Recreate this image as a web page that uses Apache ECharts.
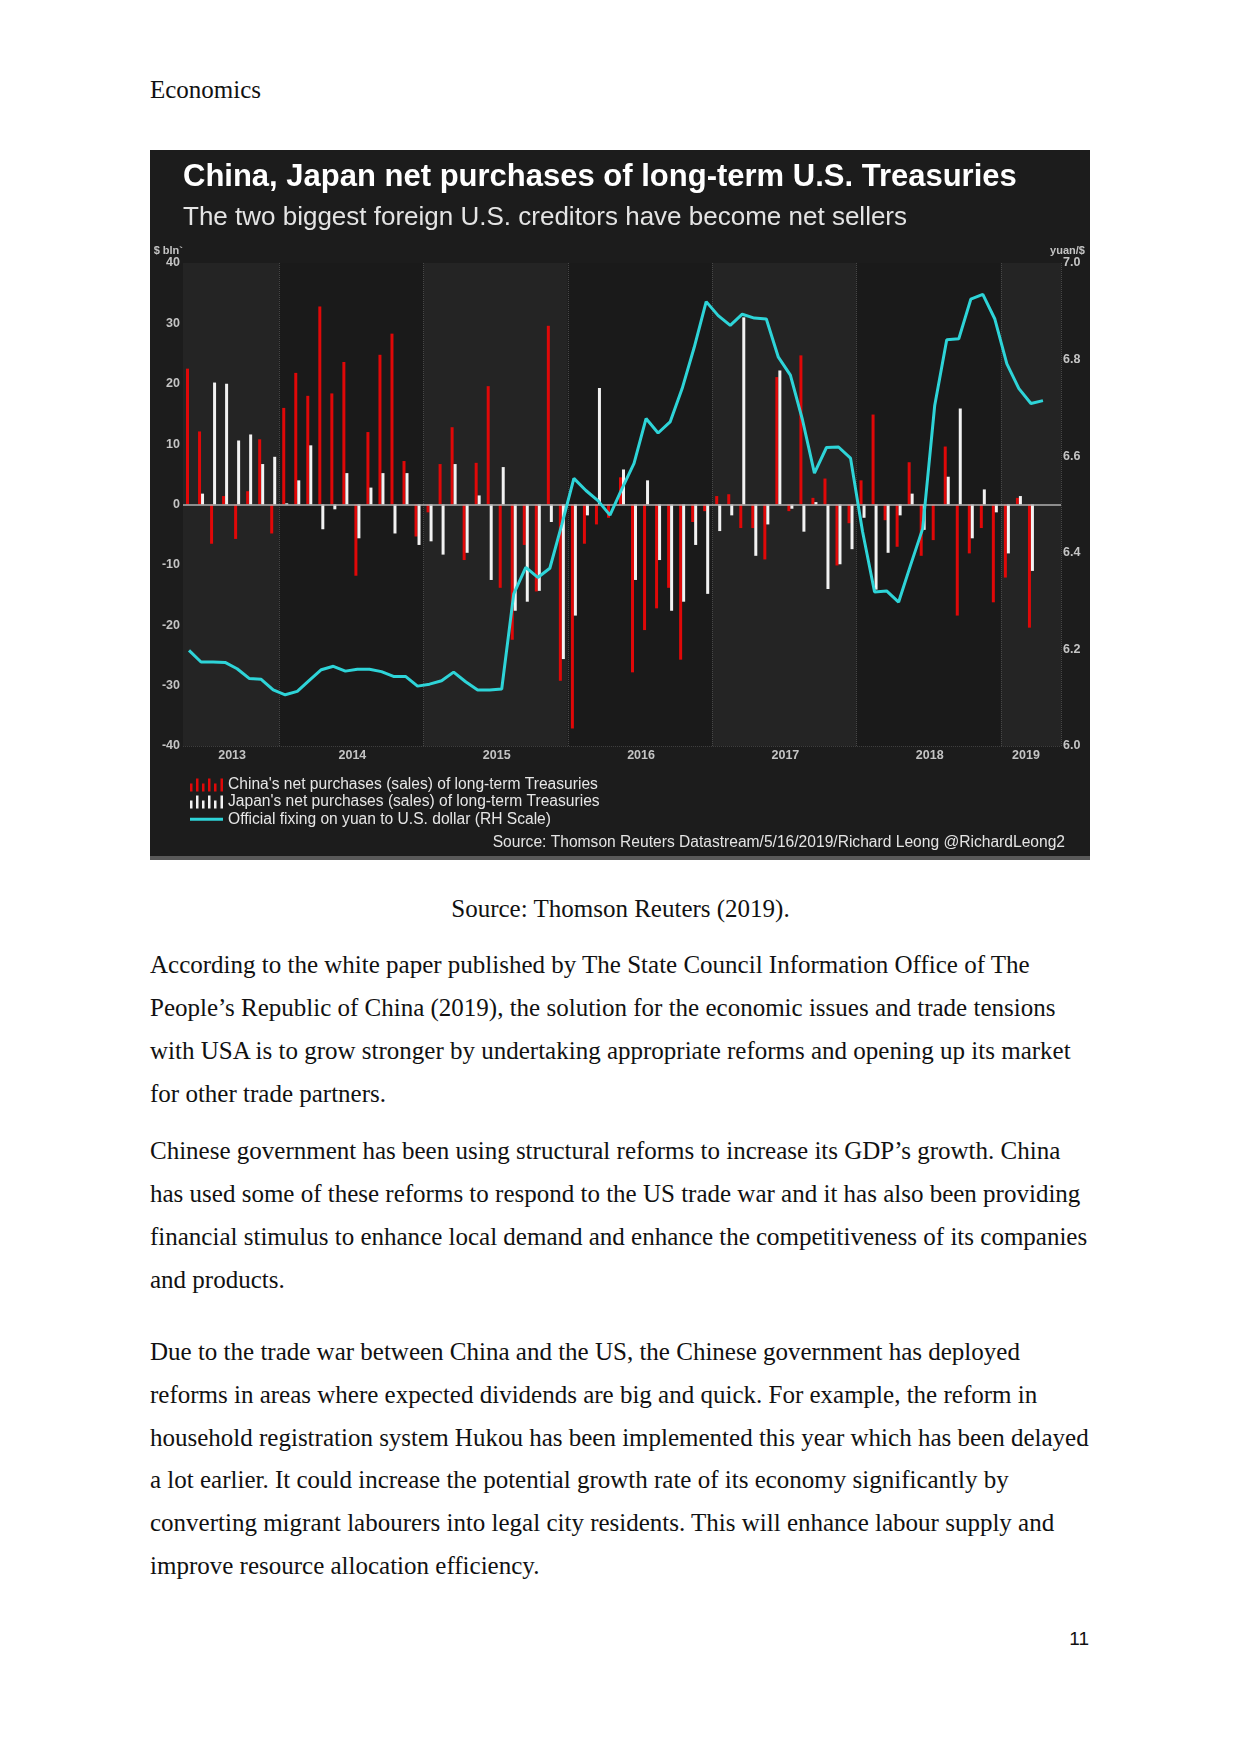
<!DOCTYPE html>
<html>
<head>
<meta charset="utf-8">
<script src="https://cdn.jsdelivr.net/npm/echarts@6/dist/echarts.min.js"></script>
<style>
body { margin: 0; background: #fff; }
#page { position: relative; width: 1241px; height: 1754px; background: #fff; font-family: 'Liberation Serif', 'Times New Roman', serif; color: #111; }
.ln { position: absolute; left: 150px; font-size: 25px; line-height: 30px; white-space: nowrap; }
#chart { position: absolute; left: 150px; top: 150px; width: 940px; height: 706px; background: #1c1c1c; border-bottom: 4px solid #595959; }
#pnum { position: absolute; right: 152px; top: 1627px; font-family: 'Liberation Sans', Arial, sans-serif; font-size: 19px; line-height: 24px; }
</style>
</head>
<body>
<div id="page">
  <div class="ln" style="top:75px">Economics</div>
  <div id="chart"></div>
  <div class="ln" style="top:894px;left:0;width:1241px;text-align:center">Source: Thomson Reuters (2019).</div>

  <div class="ln" style="top:950px">According to the white paper published by The State Council Information Office of The</div>
  <div class="ln" style="top:993px">People’s Republic of China (2019), the solution for the economic issues and trade tensions</div>
  <div class="ln" style="top:1036px">with USA is to grow stronger by undertaking appropriate reforms and opening up its market</div>
  <div class="ln" style="top:1079px">for other trade partners.</div>

  <div class="ln" style="top:1136px">Chinese government has been using structural reforms to increase its GDP’s growth. China</div>
  <div class="ln" style="top:1179px">has used some of these reforms to respond to the US trade war and it has also been providing</div>
  <div class="ln" style="top:1222px">financial stimulus to enhance local demand and enhance the competitiveness of its companies</div>
  <div class="ln" style="top:1265px">and products.</div>

  <div class="ln" style="top:1337px">Due to the trade war between China and the US, the Chinese government has deployed</div>
  <div class="ln" style="top:1380px">reforms in areas where expected dividends are big and quick. For example, the reform in</div>
  <div class="ln" style="top:1423px">household registration system Hukou has been implemented this year which has been delayed</div>
  <div class="ln" style="top:1465px">a lot earlier. It could increase the potential growth rate of its economy significantly by</div>
  <div class="ln" style="top:1508px">converting migrant labourers into legal city residents. This will enhance labour supply and</div>
  <div class="ln" style="top:1551px">improve resource allocation efficiency.</div>

  <div id="pnum">11</div>
</div>
<script>
// monthly categories, May 2013 - May 2019
var months = [
    '2013-05', '2013-06', '2013-07', '2013-08', '2013-09', '2013-10', '2013-11', '2013-12',
    '2014-01', '2014-02', '2014-03', '2014-04', '2014-05', '2014-06', '2014-07', '2014-08', '2014-09', '2014-10', '2014-11', '2014-12',
    '2015-01', '2015-02', '2015-03', '2015-04', '2015-05', '2015-06', '2015-07', '2015-08', '2015-09', '2015-10', '2015-11', '2015-12',
    '2016-01', '2016-02', '2016-03', '2016-04', '2016-05', '2016-06', '2016-07', '2016-08', '2016-09', '2016-10', '2016-11', '2016-12',
    '2017-01', '2017-02', '2017-03', '2017-04', '2017-05', '2017-06', '2017-07', '2017-08', '2017-09', '2017-10', '2017-11', '2017-12',
    '2018-01', '2018-02', '2018-03', '2018-04', '2018-05', '2018-06', '2018-07', '2018-08', '2018-09', '2018-10', '2018-11', '2018-12',
    '2019-01', '2019-02', '2019-03', '2019-04', '2019-05'
];

// China net purchases (sales), $ bln
var china = [
    22.5, 12.1, -6.5, 1.4, -5.7, 2.2, 10.8, -4.8,
    16.0, 21.8, 18.0, 32.8, 18.4, 23.6, -11.8, 12.0, 24.8, 28.3, 7.2, -5.3,
    -1.3, 6.7, 12.8, -9.2, 6.9, 19.6, -13.8, -22.4, -6.7, -14.4, 29.6, -29.2,
    -37.1, -6.5, -3.3, -2.2, 4.5, -27.8, -20.8, -17.2, -13.8, -25.7, -2.9, -1.1,
    1.4, 1.7, -3.9, -3.9, -9.1, 21.1, -1.1, 24.7, 1.1, 4.3, -10.1, -3.1,
    4.0, 14.9, -2.6, -7.0, 7.0, -8.5, -5.9, 9.6, -18.4, -8.1, -3.9, -16.2,
    -12.1, 1.1, -20.4, null, null
];

// Japan net purchases (sales), $ bln
var japan = [
    null, 1.8, 20.2, 20.0, 10.6, 11.6, 6.7, 7.9,
    0.2, 4.0, 9.8, -4.1, -0.8, 5.2, -5.6, 2.8, 5.2, -4.8, 5.2, -6.7,
    -6.1, -8.3, 6.7, -8.0, 1.5, -12.5, 6.2, -17.6, -16.1, -14.3, -2.9, -25.6,
    -18.4, -1.8, 19.3, 0, 5.8, -12.5, 4.0, -9.2, -17.6, -16.1, -6.7, -14.8,
    -4.4, -1.8, 31.0, -8.5, -3.3, 22.2, -0.7, -4.5, 0.4, -14.0, -9.9, -7.4,
    -2.2, -14.1, -8.0, -1.8, 1.8, -4.2, 0, 4.6, 15.9, -5.6, 2.5, -1.3,
    -8.1, 1.4, -11.0, null, null
];

// official yuan fixing, yuan per $ (right scale)
var yuan = [
    6.198, 6.174, 6.174, 6.173, 6.160, 6.140, 6.138, 6.116,
    6.106, 6.113, 6.136, 6.158, 6.165, 6.155, 6.159, 6.159, 6.154, 6.144, 6.144, 6.124,
    6.128, 6.135, 6.153, 6.133, 6.116, 6.116, 6.118, 6.315, 6.370, 6.349, 6.368, 6.459,
    6.554, 6.529, 6.508, 6.478, 6.533, 6.585, 6.678, 6.648, 6.671, 6.740, 6.825, 6.920,
    6.891, 6.871, 6.894, 6.886, 6.884, 6.805, 6.768, 6.676, 6.565, 6.618, 6.619, 6.596,
    6.444, 6.319, 6.321, 6.298, 6.375, 6.450, 6.705, 6.841, 6.843, 6.925, 6.935, 6.884,
    6.791, 6.740, 6.709, 6.715, null
];

// where the year labels sit
var yearLabelMonths = ['2013-09', '2014-07', '2015-07', '2016-07', '2017-07', '2018-07', '2019-03'];
var yearLabels = ['2013', '2014', '2015', '2016', '2017', '2018', '2019'];

var chinaName = "China's net purchases (sales) of long-term Treasuries";
var japanName = "Japan's net purchases (sales) of long-term Treasuries";
var fixName = 'Official fixing on yuan to U.S. dollar (RH Scale)';

var barIcon = 'path://M0,5h2.5v8h-2.5z M6,0h2.5v13h-2.5z M12,5h2.5v8h-2.5z M18,0h2.5v13h-2.5z M24,5h2.5v8h-2.5z M30.5,0h2.5v13h-2.5z';
var lineIcon = 'path://M0,0h0.01v0.01h-0.01z M0,5h33v3h-33z M32.99,12.99h0.01v0.01h-0.01z';

var font = 'Liberation Sans, Arial, sans-serif';
var axisFont = { color: '#c4c4c4', fontSize: 12.5, fontWeight: 'bold', fontFamily: font };

function isYearStart(i, v) { return v.slice(5) === '01'; }

var myChart = echarts.init(document.getElementById('chart'));
var option = {
    backgroundColor: '#1c1c1c',
    animation: false,
    textStyle: { fontFamily: font },
    title: [{
        text: 'China, Japan net purchases of long-term U.S. Treasuries',
        subtext: 'The two biggest foreign U.S. creditors have become net sellers',
        left: 33,
        top: 12,
        padding: 0,
        itemGap: 12,
        textStyle: { color: '#ffffff', fontSize: 31, fontWeight: 'bold', fontFamily: font },
        subtextStyle: { color: '#e4e4e4', fontSize: 26, fontFamily: font }
    }, {
        text: 'Source: Thomson Reuters Datastream/5/16/2019/Richard Leong @RichardLeong2',
        right: 25,
        top: 685,
        padding: 0,
        textStyle: { color: '#e4e4e4', fontSize: 15.6, fontWeight: 'normal', fontFamily: font }
    }],
    legend: {
        orient: 'vertical',
        left: 40,
        top: 627,
        padding: 0,
        itemGap: 1.1,
        itemWidth: 33,
        itemHeight: 13,
        symbolKeepAspect: false,
        selectedMode: false,
        textStyle: { color: '#e6e6e6', fontSize: 15.6, fontFamily: font },
        data: [
            { name: chinaName, icon: barIcon },
            { name: japanName, icon: barIcon },
            { name: fixName, icon: lineIcon }
        ]
    },
    grid: { left: 33, right: 29, top: 113, bottom: 110, outerBoundsMode: 'none' },
    xAxis: {
        type: 'category',
        data: months,
        boundaryGap: true,
        axisLine: { show: false },
        axisTick: { show: false },
        axisLabel: Object.assign({
            interval: function (i, v) { return yearLabelMonths.indexOf(v) >= 0; },
            formatter: function (v) { return yearLabels[yearLabelMonths.indexOf(v)]; },
            margin: 3,
            padding: [0, 10, 0, 0]
        }, axisFont),
        splitLine: { show: true, interval: isYearStart, lineStyle: { color: '#474747', type: 'dotted', width: 1 } },
        splitArea: { show: true, interval: isYearStart, areaStyle: { color: ['#242424', '#1a1a1a'] } }
    },
    yAxis: [{
        type: 'value',
        min: -40,
        max: 40,
        interval: 10,
        name: '$ bln`',
        nameLocation: 'end',
        nameGap: 7,
        nameTextStyle: { color: '#c4c4c4', fontSize: 11, fontWeight: 'bold', align: 'right', fontFamily: font },
        axisLine: { show: false },
        axisTick: { show: false },
        axisLabel: Object.assign({ margin: 3 }, axisFont),
        splitLine: { lineStyle: { color: '#3e3e3e', type: 'dotted', width: 1 } }
    }, {
        type: 'value',
        min: 6.0,
        max: 7.0,
        interval: 0.2,
        position: 'right',
        name: 'yuan/$',
        nameLocation: 'end',
        nameGap: 7,
        nameTextStyle: { color: '#c4c4c4', fontSize: 11, fontWeight: 'bold', align: 'center', padding: [0, 0, 0, 13], fontFamily: font },
        axisLine: { show: false },
        axisTick: { show: false },
        axisLabel: Object.assign({ margin: 2, formatter: function (v) { return v.toFixed(1); } }, axisFont),
        splitLine: { show: false }
    }],
    series: [{
        name: chinaName,
        type: 'bar',
        data: china,
        barWidth: 3,
        barGap: '0%',
        color: '#e00808',
        itemStyle: { color: '#e00808' },
        markLine: {
            silent: true,
            symbol: 'none',
            label: { show: false },
            lineStyle: { color: '#b0b0b0', width: 1.5, type: 'solid' },
            data: [{ yAxis: 0 }]
        }
    }, {
        name: japanName,
        type: 'bar',
        data: japan,
        barWidth: 3,
        color: '#f2f2f2',
        itemStyle: { color: '#f2f2f2' }
    }, {
        name: fixName,
        type: 'line',
        yAxisIndex: 1,
        data: yuan,
        symbol: 'none',
        color: '#2ed4d8',
        lineStyle: { color: '#2ed4d8', width: 3 },
        z: 5
    }]
};
myChart.setOption(option);
</script>
</body>
</html>
